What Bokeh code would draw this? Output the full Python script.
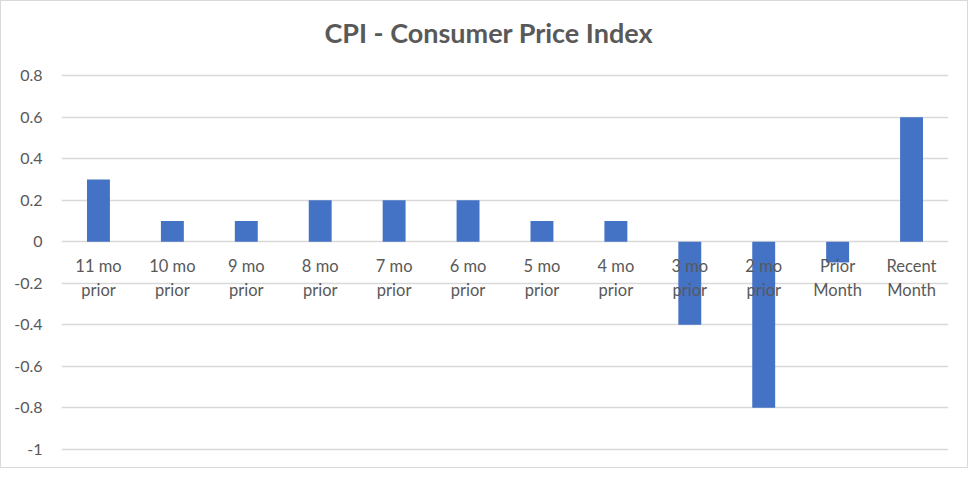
from bokeh.plotting import figure
from bokeh.models import ColumnDataSource, Range1d, FixedTicker, Label
from bokeh.core.properties import value
from bokeh.embed import file_html
from bokeh.resources import INLINE

categories = ["11 mo prior", "10 mo prior", "9 mo prior", "8 mo prior", "7 mo prior",
              "6 mo prior", "5 mo prior", "4 mo prior", "3 mo prior", "2 mo prior",
              "Prior Month", "Recent Month"]
cpi_values = [0.3, 0.1, 0.1, 0.2, 0.2, 0.2, 0.1, 0.1, -0.4, -0.8, -0.1, 0.6]
y_ticks = [-1, -0.8, -0.6, -0.4, -0.2, 0, 0.2, 0.4, 0.6, 0.8]
y_tick_labels = ["-1", "-0.8", "-0.6", "-0.4", "-0.2", "0", "0.2", "0.4", "0.6", "0.8"]
chart_title = "CPI - Consumer Price Index"

FONT = "Lato"
TXT = "#595959"
GRID = "#D9D9D9"
BAR = "#4472C4"


def split_label(c):
    words = c.split(" ")
    if words[0] in ("Prior", "Recent"):
        return words[0], " ".join(words[1:])
    return " ".join(words[:2]), " ".join(words[2:])


line1 = [split_label(c)[0] for c in categories]
line2 = [split_label(c)[1] for c in categories]

src = ColumnDataSource(dict(cat=categories, val=cpi_values, l1=line1, l2=line2,
                            zero=[0] * len(categories)))

# the plot area reaches the top of the chart so the title can sit inside it
p = figure(x_range=categories, y_range=Range1d(-1.02, 1.157),
           width=968, height=468, output_backend="svg", toolbar_location=None,
           min_border_left=60, min_border_right=21, min_border_top=0, min_border_bottom=16)
p.title.visible = False

p.vbar(x="cat", top="val", bottom=0, width=0.31, source=src,
       fill_color=BAR, line_color=None)

p.text(x="cat", y="zero", text="l1", source=src, y_offset=24,
       text_align="center", text_baseline="middle",
       text_font=value(FONT), text_font_size="16.5px", text_color=TXT)
p.text(x="cat", y="zero", text="l2", source=src, y_offset=48,
       text_align="center", text_baseline="middle",
       text_font=value(FONT), text_font_size="16.5px", text_color=TXT)

title = Label(x=5.78, y=0.82, x_units="data", y_units="data", y_offset=39,
              text=chart_title, text_align="center", text_baseline="middle",
              text_font=FONT, text_font_size="27px", text_font_style="bold",
              text_color=TXT)
p.add_layout(title)

p.xaxis.visible = False
p.xgrid.visible = False

p.yaxis.ticker = FixedTicker(ticks=y_ticks)
p.yaxis.major_label_overrides = {t: l for t, l in zip(y_ticks, y_tick_labels)}
p.yaxis.axis_line_color = None
p.yaxis.major_tick_line_color = None
p.yaxis.minor_tick_line_color = None
p.yaxis.major_label_standoff = 13
p.yaxis.major_label_text_font = FONT
p.yaxis.major_label_text_font_size = "16px"
p.yaxis.major_label_text_color = TXT

p.ygrid.grid_line_color = GRID
p.ygrid.grid_line_width = 1.5
p.outline_line_color = None
p.background_fill_color = "white"
p.border_fill_color = "white"
p.styles = {"border": "1px solid #D9D9D9"}

open("out.html", "w").write(file_html(p, INLINE))
